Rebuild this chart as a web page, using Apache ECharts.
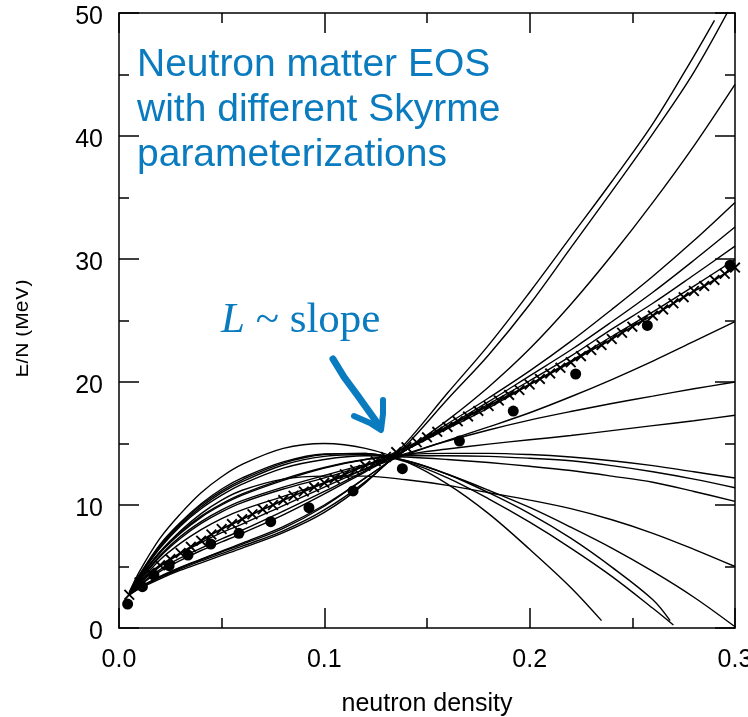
<!DOCTYPE html>
<html>
<head>
<meta charset="utf-8">
<script src="https://cdn.jsdelivr.net/npm/echarts@6/dist/echarts.min.js"></script>
<style>
  html, body { margin: 0; padding: 0; background: #fff; }
  #chart { width: 748px; height: 717px; }
</style>
</head>
<body>
<div id="chart"></div>
<script>
// Density grid (fm^-3) shared by the Skyrme curves
const densityGrid = [0.005, 0.01, 0.02, 0.03, 0.04, 0.05, 0.06, 0.08, 0.1, 0.12, 0.14, 0.16, 0.18, 0.2, 0.22, 0.24, 0.26, 0.28, 0.3];

// E/N (MeV) of neutron matter for each Skyrme parameterization (null = beyond the curve's end)
const eosA = [2.7, 3.2, 4.0, 4.7, 5.3, 5.9, 6.5, 7.75, 9.4, 11.8, 15.1, 19.1, 23.0, 27.3, 31.8, 36.3, 41.0, 46.5, null];
const eosB = [2.7, 3.25, 4.1, 4.8, 5.45, 6.05, 6.65, 7.9, 9.6, 11.9, 14.9, 18.6, 22.2, 26.3, 30.9, 35.5, 40.2, 45.2, 51.2];
const eosC = [2.75, 3.3, 4.15, 4.9, 5.55, 6.2, 6.8, 8.1, 9.9, 12.2, 14.5, 16.9, 19.6, 22.7, 26.3, 30.3, 34.6, 39.2, 44.2];
const eosD = [2.7, 3.3, 4.2, 4.95, 5.6, 6.25, 6.9, 8.25, 10.0, 12.2, 14.5, 16.6, 18.7, 20.9, 23.3, 25.9, 28.6, 31.5, 34.6];
const eosE = [2.7, 3.45, 4.6, 5.5, 6.3, 7.0, 7.7, 9.2, 10.9, 12.7, 14.5, 16.4, 18.4, 20.5, 22.6, 24.9, 27.3, 29.9, 32.6];
const eosF = [2.7, 3.5, 4.75, 5.7, 6.5, 7.25, 7.95, 9.5, 11.1, 12.8, 14.5, 16.3, 18.2, 20.1, 22.1, 24.3, 26.4, 28.7, 31.05];
const eosG = [2.72, 3.6, 5.0, 6.05, 6.95, 7.75, 8.45, 9.95, 11.45, 12.95, 14.5, 16.2, 17.9, 19.8, 21.7, 23.7, 25.7, 27.8, 29.95];
const eosH = [2.72, 3.75, 5.55, 6.9, 8.0, 8.9, 9.6, 10.7, 11.8, 12.9, 14.1, 15.25, 16.35, 17.5, 18.8, 20.2, 21.7, 23.3, 24.9];
const eosI = [2.73, 3.85, 5.8, 7.3, 8.5, 9.45, 10.2, 11.3, 12.2, 13.2, 14.2, 15.2, 16.1, 16.9, 17.6, 18.25, 18.85, 19.45, 20.0];
const eosJ = [2.75, 3.9, 5.9, 7.45, 8.65, 9.6, 10.35, 11.45, 12.4, 13.3, 14.1, 14.55, 14.95, 15.3, 15.65, 16.05, 16.45, 16.85, 17.3];
const eosK = [2.76, 4.0, 6.1, 7.7, 9.0, 10.0, 10.8, 12.0, 13.0, 13.7, 14.1, 14.2, 14.2, 14.1, 13.9, 13.6, 13.2, 12.7, 12.2];
const eosL = [2.78, 4.05, 6.2, 7.8, 9.1, 10.1, 10.9, 12.1, 13.05, 13.7, 14.0, 14.0, 13.95, 13.8, 13.6, 13.2, 12.7, 12.1, 11.4];
const eosM = [2.8, 4.2, 6.5, 8.3, 9.7, 10.8, 11.7, 13.0, 13.7, 14.0, 13.9, 13.7, 13.45, 13.15, 12.8, 12.35, 11.85, 11.1, 10.3];
const eosN = [2.8, 4.1, 6.2, 7.9, 9.3, 10.4, 11.2, 12.1, 12.35, 12.35, 12.05, 11.6, 11.0, 10.4, 9.7, 8.8, 7.7, 6.4, 5.0];
const eosO = [2.82, 4.25, 6.6, 8.4, 9.85, 11.0, 11.9, 13.25, 13.95, 14.1, 13.6, 12.5, 11.2, 9.8, 8.2, 6.5, 4.6, 2.5, 0.1];
const eosP = [2.84, 4.3, 6.7, 8.5, 10.0, 11.15, 12.05, 13.4, 14.1, 14.2, 13.6, 12.5, 11.0, 9.3, 7.3, 4.95, 2.3, null, null];
const eosQ = [2.85, 4.35, 6.8, 8.6, 10.1, 11.3, 12.2, 13.5, 14.15, 14.2, 13.5, 12.2, 10.5, 8.6, 6.5, 4.2, 1.6, null, null];
const eosR = [2.9, 4.6, 7.3, 9.3, 11.0, 12.3, 13.3, 14.6, 15.0, 14.6, 13.5, 11.7, 9.3, 6.4, 3.3, null, null, null, null];

// Last point of the curves that stop before the grid ends: [density, E/N]
const endA = [0.29, 49.4];
const endP = [0.2684, 0.6];
const endQ = [0.27, 0.24];
const endR = [0.235, 0.6];

// Reference EOS drawn with crosses, one mark every 0.005 fm^-3 from 0.005 to 0.3
const crossDensity = [];
for (let k = 1; k <= 60; k++) crossDensity.push(+(0.005 * k).toFixed(3));
const crossEnergy = [2.7, 3.7, 4.5, 5.1, 5.6, 6.1, 6.6, 7.1, 7.6, 8.05,
  8.45, 8.85, 9.25, 9.65, 10.0, 10.4, 10.75, 11.1, 11.45, 11.8,
  12.15, 12.5, 12.85, 13.2, 13.55, 13.9, 14.3, 14.7, 15.1, 15.5,
  15.95, 16.35, 16.8, 17.2, 17.65, 18.05, 18.5, 18.95, 19.35, 19.8,
  20.25, 20.7, 21.15, 21.6, 22.1, 22.6, 23.0, 23.5, 24.0, 24.5,
  25.0, 25.4, 25.9, 26.4, 26.9, 27.4, 27.8, 28.3, 28.8, 29.3];

// Microscopic neutron-matter points (filled circles)
const dotDensity = [0.0042, 0.0114, 0.017, 0.0244, 0.0336, 0.0447, 0.0584, 0.0739, 0.0925, 0.114, 0.138, 0.1658, 0.192, 0.2224, 0.2573, 0.2976];
const dotEnergy = [1.95, 3.36, 4.31, 5.07, 5.93, 6.83, 7.7, 8.64, 9.78, 11.14, 12.95, 15.2, 17.64, 20.65, 24.6, 29.5];

// Axis tick labels
const xTickLabels = ['0.0', '0.1', '0.2', '0.3'];
const yTickLabels = ['0', '10', '20', '30', '40', '50'];

const curves = [
  [eosA, endA], [eosB, null], [eosC, null], [eosD, null], [eosE, null], [eosF, null],
  [eosG, null], [eosH, null], [eosI, null], [eosJ, null], [eosK, null], [eosL, null],
  [eosM, null], [eosN, null], [eosO, null], [eosP, endP], [eosQ, endQ], [eosR, endR]
];

function curveData(values, end) {
  const pts = [];
  values.forEach((v, i) => { if (v !== null) pts.push([densityGrid[i], v]); });
  if (end) pts.push(end);
  return pts;
}

const axisFont = "'Liberation Sans', Arial, sans-serif";
const blue = '#0a7bbf';

const series = curves.map(([vals, end]) => ({
  type: 'line',
  data: curveData(vals, end),
  smooth: 0.35,
  showSymbol: false,
  lineStyle: { color: '#000', width: 1.4 },
  silent: true,
  z: 2
}));

series.push({
  type: 'line',
  data: crossDensity.map((x, i) => [x, crossEnergy[i]]),
  symbol: 'path://M0,1.2L1.2,0L5,3.8L8.8,0L10,1.2L6.2,5L10,8.8L8.8,10L5,6.2L1.2,10L0,8.8L3.8,5Z',
  symbolSize: 11,
  showSymbol: true,
  showAllSymbol: true,
  itemStyle: { color: '#000', opacity: 1 },
  lineStyle: { color: '#000', width: 1.8 },
  silent: true,
  z: 3
});

series.push({
  type: 'scatter',
  data: dotDensity.map((x, i) => [x, dotEnergy[i]]),
  symbol: 'circle',
  symbolSize: 11,
  itemStyle: { color: '#000', opacity: 1 },
  silent: true,
  z: 4
});

const tickLine = { color: '#000', width: 1.5 };
const baseX = {
  type: 'value', min: 0, max: 0.3, interval: 0.1,
  axisLine: { onZero: false, lineStyle: tickLine },
  axisTick: { inside: true, length: 20, lineStyle: tickLine },
  minorTick: { show: true, splitNumber: 2, length: 10, lineStyle: tickLine },
  splitLine: { show: false }
};
const baseY = {
  type: 'value', min: 0, max: 50, interval: 10,
  axisLine: { onZero: false, lineStyle: tickLine },
  axisTick: { inside: true, length: 20, lineStyle: tickLine },
  minorTick: { show: true, splitNumber: 2, length: 10, lineStyle: tickLine },
  splitLine: { show: false }
};

const option = {
  animation: false,
  backgroundColor: '#fff',
  grid: { left: 119, right: 13, top: 13, bottom: 89, containLabel: false, outerBoundsMode: 'none' },
  xAxis: [
    Object.assign({}, baseX, {
      position: 'bottom',
      axisLabel: {
        color: '#000', fontSize: 25, fontFamily: axisFont, margin: 20,
        formatter: v => xTickLabels[Math.round(v * 10)]
      },
      name: 'neutron density', nameLocation: 'middle', nameGap: 64,
      nameTextStyle: { color: '#000', fontSize: 25, fontFamily: axisFont }
    }),
    Object.assign({}, baseX, { position: 'top', axisLabel: { show: false } })
  ],
  yAxis: [
    Object.assign({}, baseY, {
      position: 'left',
      axisLabel: {
        color: '#000', fontSize: 25, fontFamily: axisFont, margin: 16,
        verticalAlign: 'top', lineHeight: 8,
        formatter: v => yTickLabels[Math.round(v / 10)]
      },
      name: 'E/N (MeV)', nameLocation: 'middle', nameGap: 86, nameRotate: 90,
      nameTextStyle: { color: '#000', fontSize: 21, fontFamily: axisFont, padding: [0, 16, 0, 0] }
    }),
    Object.assign({}, baseY, { position: 'right', axisLabel: { show: false } })
  ],
  series: series,
  graphic: [
    // clipped strip along the left edge over the y-axis title
    { type: 'rect', shape: { x: 0, y: 250, width: 16, height: 160 }, style: { fill: '#fff' }, z: 100 },
    {
      type: 'text', left: 137, top: 43, z: 50,
      style: {
        text: 'Neutron matter EOS\nwith different Skyrme\nparameterizations',
        font: "39px 'Liberation Sans', Arial, sans-serif",
        fill: blue, lineHeight: 45
      }
    },
    {
      type: 'text', left: 221, top: 299, z: 50,
      style: {
        text: '{it|L} ~ slope',
        font: "43px 'Liberation Serif', 'Times New Roman', serif",
        fill: blue,
        rich: {
          it: { fontStyle: 'italic', fontFamily: "'Liberation Serif', 'Times New Roman', serif", fontSize: 43, fill: blue }
        }
      }
    },
    {
      type: 'polyline', z: 60,
      shape: { points: [[333, 359], [344, 377], [358, 396], [378, 424]] },
      style: { stroke: blue, lineWidth: 7, lineCap: 'round', lineJoin: 'round', fill: null }
    },
    {
      type: 'polyline', z: 60,
      shape: { points: [[354, 416], [370, 423], [381, 430], [383, 414], [383, 400]] },
      style: { stroke: blue, lineWidth: 6, lineCap: 'round', lineJoin: 'round', fill: null }
    }
  ]
};

const chart = echarts.init(document.getElementById('chart'), null, { renderer: 'canvas' });
chart.setOption(option);
</script>
</body>
</html>
